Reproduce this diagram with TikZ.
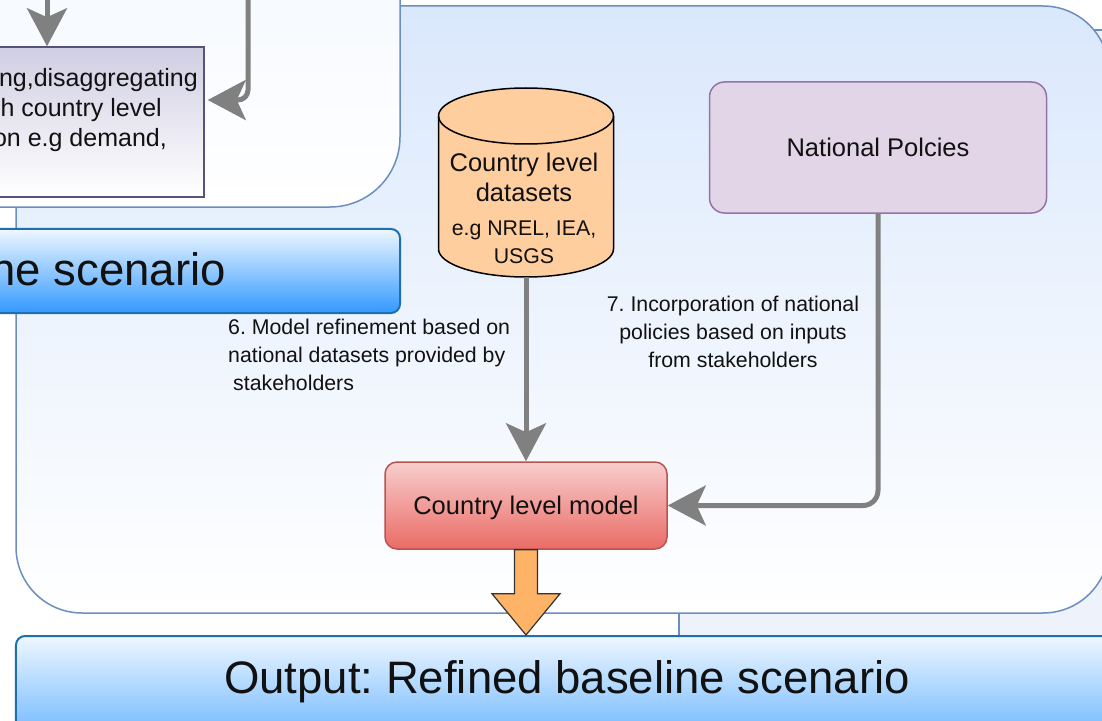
\documentclass[tikz,border=0pt]{standalone}
\usepackage{fontspec}
\setmainfont{Liberation Sans}
\usetikzlibrary{arrows.meta,calc}
\definecolor{arrgray}{HTML}{808080}
\definecolor{contborder}{HTML}{6C8EBF}
\definecolor{conttop}{HTML}{DAE8FC}
\definecolor{palebg}{HTML}{EEF3FB}
\definecolor{bartop}{HTML}{EEF7FF}
\definecolor{barbot}{HTML}{3399FF}
\definecolor{barborder}{HTML}{1F6FAE}
\definecolor{cylfill}{HTML}{FFCE9F}
\definecolor{natfill}{HTML}{E1D5E7}
\definecolor{natborder}{HTML}{9673A6}
\definecolor{modtop}{HTML}{F8CECC}
\definecolor{modbot}{HTML}{EA6B66}
\definecolor{modborder}{HTML}{B85450}
\definecolor{purtop}{HTML}{D0CEE2}
\definecolor{purborder}{HTML}{56517E}
\definecolor{orangefill}{HTML}{FFB366}
\definecolor{txtcol}{HTML}{111111}
\frenchspacing
\begin{document}
\begin{tikzpicture}[x=1bp,y=-1bp,
  garrow/.style={draw=arrgray, line width=5bp, -{Stealth[length=38bp,width=40bp,inset=9bp]}},
  container/.style={draw=contborder, line width=1.5bp, top color=conttop, bottom color=white},
  bar/.style={draw=barborder, line width=2bp, top color=bartop, bottom color=barbot, rounded corners=9bp, inner sep=0pt},
  bigtxt/.style={font=\fontsize{45.5bp}{52bp}\selectfont, inner sep=0pt, text=txtcol},
  boxtxt/.style={font=\fontsize{25.5bp}{30bp}\selectfont, text=txtcol},
  tltxt/.style={font=\fontsize{25bp}{30bp}\selectfont, inner sep=0pt, text=txtcol},
  smalltxt/.style={font=\fontsize{21.3bp}{28bp}\selectfont, inner sep=0pt, text=txtcol},
  onetext/.style={text height=18.4bp, text depth=0pt}
]
\useasboundingbox (0,0) rectangle (1102,721);
\fill[white] (0,0) rectangle (1102,721);

% background containers
\path[fill=palebg, draw=contborder, line width=1.5bp] (679,30) rectangle (1140,636);
\path[container, rounded corners=66bp] (16,6) rectangle (1109,613);
\path[draw=contborder, line width=1.5bp, top color=conttop!55, bottom color=white, rounded corners=70bp]
  (-400,-300) rectangle (400,207);

% top-left partial box
\node[draw=purborder, line width=1.5bp, top color=purtop, bottom color=white,
      minimum width=604bp, minimum height=150bp, inner sep=0pt] (tlbox) at (-98,122) {};
\node[tltxt, anchor=base east] (tlt1) at (198,87) {ng,disaggregating};
\node[tltxt, anchor=base east] (tlt2) at (162,117) {h country level};
\node[tltxt, anchor=base east] (tlt3) at (167,147) {on e.g demand,};

\coordinate (tla) at (47,-10);
\coordinate (tlb) at (248,-10);
\draw[garrow] (tla) -- (tla |- tlbox.north);
\draw[garrow, rounded corners=10bp] (tlb) |- ([xshift=3bp,yshift=22bp]tlbox.east);

% scenario bar (partial)
\node[bar, minimum width=800bp, minimum height=84bp] (scenbar) at (0,271) {};
\node[bigtxt, anchor=base east] (scentxt) at (226,285) {ne scenario};

% output bar
\node[bar, minimum width=1200bp, minimum height=150bp] (outbar) at (616,711) {};
\node[bigtxt, anchor=base] (outtxt) at (567,693) {Output: Refined baseline scenario};

% cylinder
\path[draw=black, line width=1.5bp, fill=cylfill]
  (438.5,116) -- (438.5,249) arc[start angle=180, end angle=0, x radius=87.5, y radius=28]
  -- (613.5,116) arc[start angle=0, end angle=-180, x radius=87.5, y radius=28] -- cycle;
\draw[black, line width=1.5bp] (438.5,116) arc[start angle=180, end angle=0, x radius=87.5, y radius=28];
\node[minimum width=175bp, minimum height=189bp, inner sep=0pt] (cyl) at (526,182.5) {};
\node[boxtxt, anchor=base, inner sep=0pt] (cy1) at (524,172) {Country level};
\node[boxtxt, anchor=base, inner sep=0pt] (cy2) at (524,202) {datasets};
\node[smalltxt, anchor=base] (cy3) at (524,235) {e.g NREL, IEA,};
\node[smalltxt, anchor=base] (cy4) at (524,263) {USGS};

% national policies
\node[draw=natborder, fill=natfill, line width=1.5bp, rounded corners=15bp,
      minimum width=337bp, minimum height=131bp, boxtxt, onetext] (nat) at (878,147.5) {National Polcies};

% country level model
\node[draw=modborder, top color=modtop, bottom color=modbot, line width=1.5bp, rounded corners=12bp,
      minimum width=282bp, minimum height=87bp, boxtxt, onetext] (model) at (526,505.5) {Country level model};

% connectors
\draw[garrow] (cyl.south) -- (model.north);
\draw[garrow, rounded corners=15bp] (nat.south) |- (model.east);

% orange block arrow
\draw[draw=black!80, line width=1.2bp, fill=orangefill, line join=miter]
  ($(model.south)+(-11.5,0)$) -- ($(model.south)+(-11.5,44)$) -- ($(model.south)+(-34,44)$)
  -- (outbar.north -| model.south) -- ($(model.south)+(34,44)$) -- ($(model.south)+(11.5,44)$)
  -- ($(model.south)+(11.5,0)$) -- cycle;

% labels
\node[smalltxt, anchor=base west] (l6a) at (228,334) {6. Model refinement based on};
\node[smalltxt, anchor=base west] (l6b) at (228,362) {national datasets provided by};
\node[smalltxt, anchor=base west] (l6c) at (233,390) {stakeholders};
\node[smalltxt, anchor=base] (l7a) at (733,311) {7. Incorporation of national};
\node[smalltxt, anchor=base] (l7b) at (733,339) {policies based on inputs};
\node[smalltxt, anchor=base] (l7c) at (733,367) {from stakeholders};
\end{tikzpicture}
\end{document}
